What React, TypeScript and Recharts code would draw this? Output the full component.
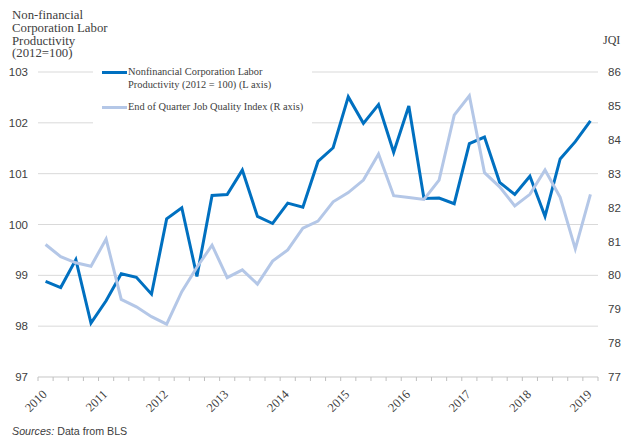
import React from 'react';
import { LineChart, Line, XAxis, YAxis, CartesianGrid, Legend } from 'recharts';

const years = ['2010', '2011', '2012', '2013', '2014', '2015', '2016', '2017', '2018', '2019'];
const quarterNames = ['Q1', 'Q2', 'Q3', 'Q4'];
const quarters = years.flatMap((y) => quarterNames.map((q) => `${y} ${q}`)).slice(0, 37);

const productivity = [
  98.88, 98.76, 99.31, 98.06, 98.5, 99.03, 98.96, 98.63, 100.11, 100.33, 98.98, 100.57,
  100.59, 101.07, 100.16, 100.02, 100.42, 100.34, 101.24, 101.51, 102.51, 101.99, 102.36, 101.42,
  102.33, 100.51, 100.52, 100.41, 101.59, 101.72, 100.83, 100.59, 100.95, 100.16, 101.29, 101.63,
  102.04,
];
const jqi = [
  80.91, 80.55, 80.37, 80.27, 81.07, 79.29, 79.07, 78.78, 78.56, 79.52, 80.24, 80.89,
  79.93, 80.16, 79.74, 80.42, 80.75, 81.39, 81.6, 82.17, 82.44, 82.81, 83.58, 82.35,
  82.3, 82.24, 82.81, 84.73, 85.3, 83.03, 82.61, 82.05, 82.39, 83.11, 82.3, 80.78,
  82.39,
];
const leftTicks = [97, 98, 99, 100, 101, 102, 103];
const rightTicks = [77, 78, 79, 80, 81, 82, 83, 84, 85, 86];

const data = quarters.map((q, i) => ({ q, prod: productivity[i], jqi: jqi[i] }));

const DARK = '#0070C0';
const LIGHT = '#B4C7E7';
const TEXT = '#404040';
const SERIF = '"Liberation Serif", "Times New Roman", serif';
const SANS = '"Liberation Sans", Arial, sans-serif';

const PLOT_W = 560;
const HALF = PLOT_W / quarters.length / 2;

const XTick = (props: any) => {
  const { x, y, payload, index } = props;
  const isYear = String(payload.value).endsWith('Q1');
  const label = String(payload.value).slice(0, 4);
  return (
    <g>
      <line x1={x - HALF} x2={x - HALF} y1={y} y2={y + 4} stroke="#bfbfbf" />
      {index === quarters.length - 1 && (
        <line x1={x + HALF} x2={x + HALF} y1={y} y2={y + 4} stroke="#bfbfbf" />
      )}
      {isYear && (
        <text
          x={x + 2}
          y={y + 18}
          textAnchor="end"
          transform={`rotate(-45 ${x + 2} ${y + 18})`}
          fontSize={12.5}
          fontFamily={SERIF}
          fill={TEXT}
        >
          {label}
        </text>
      )}
    </g>
  );
};

const LegendContent = () => (
  <div style={{ position: 'relative', width: 219, height: 66, background: '#fff', fontFamily: SERIF, fontSize: 10.4, color: TEXT }}>
    <div style={{ position: 'absolute', left: 9, top: 11, width: 25, height: 3, background: DARK }} />
    <div style={{ position: 'absolute', left: 35, top: 5, lineHeight: '13px', whiteSpace: 'nowrap' }}>
      Nonfinancial Corporation Labor
      <br />
      Productivity (2012 = 100) (L axis)
    </div>
    <div style={{ position: 'absolute', left: 9, top: 46, width: 25, height: 3, background: LIGHT }} />
    <div style={{ position: 'absolute', left: 35, top: 40, lineHeight: '13px', whiteSpace: 'nowrap' }}>
      End of Quarter Job Quality Index (R axis)
    </div>
  </div>
);

export default function App() {
  return (
    <div style={{ position: 'absolute', left: 0, top: 0, width: 624, height: 444, background: '#fff' }}>
      <LineChart width={624} height={444} data={data} margin={{ top: 72, right: 0, bottom: 17, left: 0 }}>
        <CartesianGrid vertical={false} stroke="#d9d9d9" />
        <XAxis
          dataKey="q"
          interval={0}
          height={50}
          tickSize={0}
          tickMargin={0}
          tickLine={false}
          axisLine={{ stroke: '#d9d9d9' }}
          padding={{ left: HALF, right: HALF }}
          tick={<XTick />}
        />
        <YAxis
          width={38}
          domain={[97, 103]}
          ticks={leftTicks}
          axisLine={false}
          tickLine={false}
          tickMargin={4}
          tick={{ fontSize: 11.5, fontFamily: SANS, fill: TEXT }}
        />
        <YAxis
          yAxisId="right"
          orientation="right"
          width={26}
          domain={[77, 86]}
          ticks={rightTicks}
          axisLine={false}
          tickLine={false}
          tickMargin={4}
          tick={{ fontSize: 11.5, fontFamily: SANS, fill: TEXT, textAnchor: 'start' }}
        />
        <Legend
          layout="vertical"
          align="center"
          verticalAlign="middle"
          content={<LegendContent />}
          wrapperStyle={{ position: 'absolute', left: 93, top: 60, width: 219, height: 66 }}
        />
        <Line
          type="linear"
          dataKey="prod"
          name="Nonfinancial Corporation Labor Productivity (2012 = 100) (L axis)"
          stroke={DARK}
          strokeWidth={3}
          dot={false}
          isAnimationActive={false}
        />
        <Line
          type="linear"
          dataKey="jqi"
          yAxisId="right"
          name="End of Quarter Job Quality Index (R axis)"
          stroke={LIGHT}
          strokeWidth={3}
          dot={false}
          isAnimationActive={false}
        />
      </LineChart>
      <div style={{ position: 'absolute', left: 12, top: 9, fontFamily: SERIF, fontSize: 12.8, lineHeight: '12.8px', color: TEXT }}>
        Non-financial
        <br />
        Corporation Labor
        <br />
        Productivity
        <br />
        (2012=100)
      </div>
      <div style={{ position: 'absolute', left: 603, top: 33, fontFamily: SERIF, fontSize: 12, color: TEXT }}>JQI</div>
      <div style={{ position: 'absolute', left: 12, top: 425, fontFamily: SANS, fontSize: 10.7, color: TEXT }}>
        <i>Sources:</i> Data from BLS
      </div>
    </div>
  );
}
